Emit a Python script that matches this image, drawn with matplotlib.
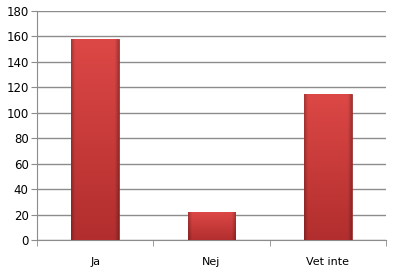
import numpy as np
import matplotlib
matplotlib.use("Agg")
import matplotlib.pyplot as plt

categories = ["Ja", "Nej", "Vet inte"]
values = [158, 22, 115]
yticks = [0, 20, 40, 60, 80, 100, 120, 140, 160, 180]

fig = plt.figure(figsize=(3.96, 2.74), dpi=100)
ax = fig.add_axes([37 / 396, 1 - 240 / 274, 349 / 396, 229 / 274])

x = np.arange(len(categories))
bars = ax.bar(x, values, width=0.41, color="#cc3c3c", edgecolor="#8a2424",
              linewidth=0.5, zorder=3)

# shading: top bright, bottom darker, thin dark side edges
top = np.array([0xdc, 0x48, 0x46]) / 255
bot = np.array([0xb2, 0x2e, 0x2e]) / 255
n = 80
t = np.linspace(0, 1, n)[:, None, None]      # 0 bottom -> 1 top
base = bot + (top - bot) * t
hx = np.linspace(0, 1, n)
edge = np.clip(np.minimum(hx, 1 - hx) / 0.08, 0, 1) * 0.25 + 0.75
img = base * edge[None, :, None]
for b in bars:
    x0, w, hgt = b.get_x(), b.get_width(), b.get_height()
    im = ax.imshow(np.repeat(img, 1, axis=1), extent=[x0, x0 + w, 0, hgt],
                   origin="lower", aspect="auto", zorder=3,
                   interpolation="bilinear")
    im.set_clip_path(b)

ax.set_xlim(-0.5, len(categories) - 0.5)
ax.set_ylim(0, 180)
ax.set_yticks(yticks)
ax.yaxis.grid(True, color="#8c8c8c", linewidth=1)
ax.set_axisbelow(True)

ax.set_xticks(x)
ax.set_xticklabels(categories, fontsize=8)
ax.set_xticks(np.arange(len(categories) + 1) - 0.5, minor=True)
ax.tick_params(axis="x", which="major", length=0, pad=12)
ax.tick_params(axis="x", which="minor", length=4, color="#8c8c8c")
ax.tick_params(axis="y", length=4, color="#8c8c8c", labelsize=8.5, pad=2)

for s in ["top", "right"]:
    ax.spines[s].set_visible(False)
ax.spines["left"].set_color("#8c8c8c")
ax.spines["bottom"].set_color("#8c8c8c")

fig.savefig("out.png", dpi=100)
